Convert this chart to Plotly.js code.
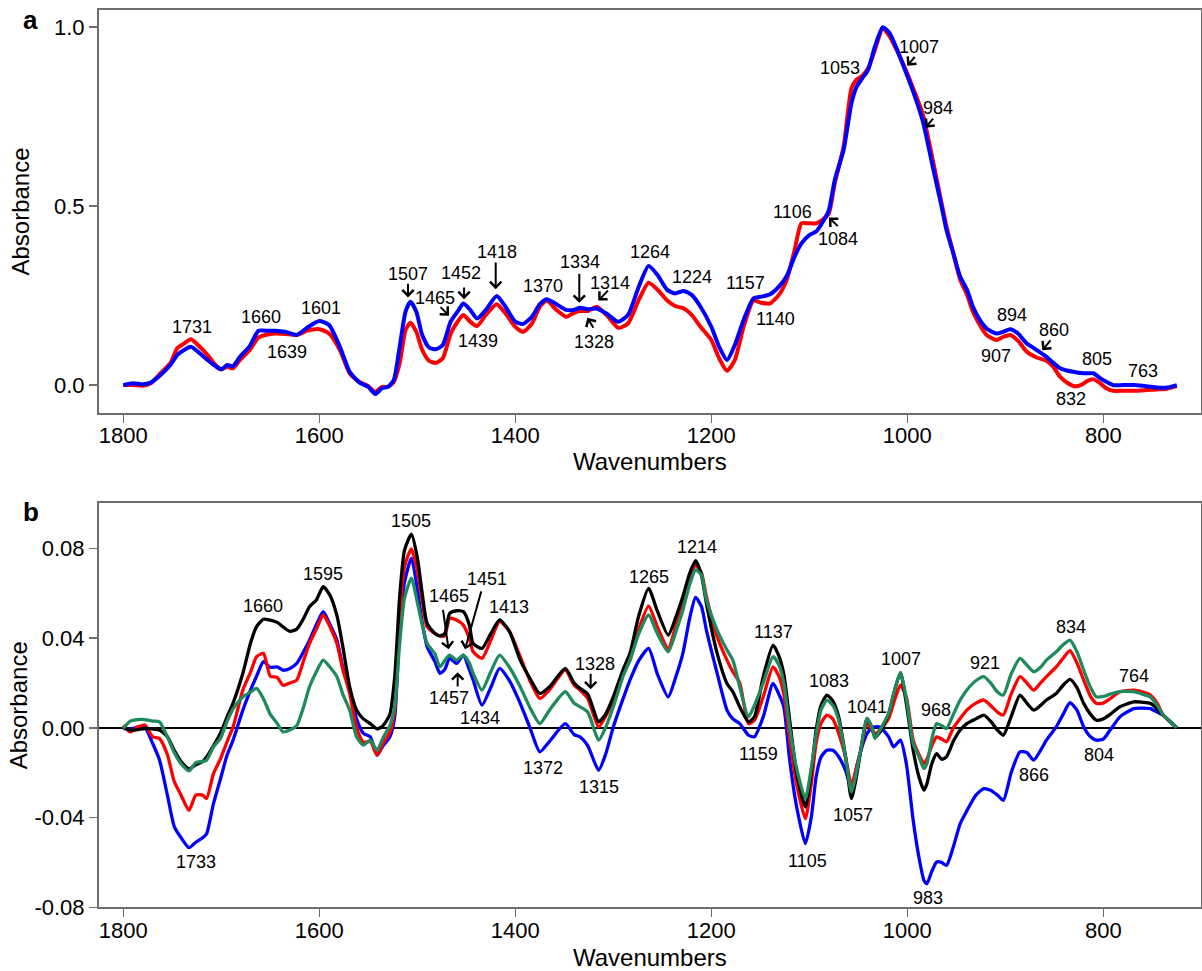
<!DOCTYPE html>
<html>
<head>
<meta charset="utf-8">
<script src="https://cdn.plot.ly/plotly-3.0.1.min.js"></script>
<style>
html,body{margin:0;padding:0;background:#fff;}
#chart{width:1202px;height:971px;}
</style>
</head>
<body>
<div id="chart"></div>
<script>
// ---------- Panel a data (wavenumber, absorbance) ----------
const wnA = [1800,1790,1780,1772,1762,1752,1745,1738,1731,1722,1714,1706,1700,1694,1688,1681,1671,1662,1655,1645,1635,1623,1612,1600,1590,1579,1569,1559,1550,1543,1536,1530,1524,1518,1512,1507,1501,1495,1488,1481,1474,1466,1459,1453,1446,1439,1430,1419,1410,1400,1392,1383,1375,1368,1358,1348,1340,1334,1326,1317,1307,1295,1285,1274,1264,1255,1245,1237,1228,1220,1211,1200,1192,1184,1176,1167,1157,1149,1140,1131,1123,1115,1108,1100,1093,1086,1080,1074,1065,1057,1052,1046,1040,1033,1025,1018,1011,1003,994,984,974,965,960,953,946,939,933,926,919,909,902,895,887,878,868,858,851,844,836,830,823,816,810,804,797,790,780,768,756,745,735,725];
const redA = [0,0,-0.002,0.005,0.033,0.061,0.103,0.116,0.128,0.107,0.084,0.056,0.044,0.051,0.047,0.070,0.098,0.133,0.140,0.144,0.143,0.140,0.152,0.156,0.144,0.098,0.033,0.009,-0.003,-0.019,-0.005,-0.005,0.009,0.061,0.154,0.174,0.149,0.098,0.068,0.062,0.075,0.143,0.177,0.196,0.177,0.165,0.196,0.226,0.200,0.163,0.149,0.172,0.219,0.236,0.210,0.191,0.202,0.207,0.207,0.219,0.196,0.160,0.172,0.238,0.286,0.267,0.236,0.221,0.214,0.196,0.163,0.126,0.075,0.040,0.070,0.163,0.236,0.230,0.228,0.252,0.294,0.377,0.452,0.452,0.452,0.463,0.480,0.564,0.666,0.829,0.853,0.864,0.885,0.937,0.997,0.974,0.937,0.890,0.829,0.755,0.629,0.508,0.443,0.368,0.294,0.252,0.205,0.168,0.140,0.126,0.135,0.140,0.124,0.093,0.077,0.068,0.051,0.023,0.005,-0.003,0.000,0.012,0.016,0.007,-0.009,-0.016,-0.016,-0.016,-0.014,-0.012,-0.010,-0.003];
const blueA = [0,0.005,0.002,0.007,0.028,0.056,0.084,0.098,0.107,0.089,0.070,0.053,0.044,0.056,0.053,0.079,0.109,0.152,0.152,0.152,0.149,0.140,0.161,0.179,0.168,0.107,0.037,0.007,-0.005,-0.025,-0.009,-0.005,0.014,0.107,0.205,0.233,0.205,0.140,0.105,0.100,0.112,0.177,0.205,0.228,0.210,0.186,0.210,0.249,0.219,0.177,0.171,0.191,0.226,0.240,0.226,0.210,0.210,0.216,0.212,0.214,0.200,0.177,0.196,0.275,0.333,0.308,0.266,0.256,0.263,0.252,0.219,0.163,0.107,0.070,0.112,0.182,0.242,0.247,0.254,0.275,0.305,0.359,0.396,0.419,0.429,0.457,0.489,0.573,0.657,0.787,0.832,0.857,0.881,0.946,1.000,0.983,0.941,0.885,0.820,0.736,0.610,0.499,0.433,0.368,0.303,0.266,0.219,0.182,0.158,0.144,0.149,0.156,0.144,0.116,0.098,0.079,0.062,0.047,0.040,0.037,0.034,0.033,0.033,0.021,0.009,0.000,0.000,0.000,-0.003,-0.007,-0.007,0.000];

// ---------- Panel b data (wavenumber, difference absorbance) ----------
const wnB = [1800,1793,1785,1778,1770,1763,1755,1748,1741,1733,1726,1719,1715,1708,1701,1694,1688,1678,1670,1664,1657,1650,1643,1637,1630,1623,1616,1610,1603,1596,1589,1582,1576,1569,1562,1555,1548,1541,1535,1528,1523,1518,1513,1506,1500,1495,1490,1482,1477,1472,1467,1460,1453,1447,1443,1434,1425,1416,1406,1395,1385,1375,1365,1349,1340,1334,1326,1315,1308,1300,1290,1283,1274,1264,1255,1244,1236,1229,1222,1216,1210,1205,1194,1184,1178,1171,1162,1156,1147,1137,1131,1126,1120,1113,1104,1098,1093,1088,1082,1076,1070,1063,1057,1052,1048,1041,1036,1033,1028,1019,1014,1007,1001,994,988,983,980,975,970,965,960,953,946,939,930,922,915,908,902,894,885,878,871,864,858,848,841,834,827,820,813,807,800,793,783,769,760,752,745,739,732,725];
const blackB = [0.0004,-0.0010,-0.0008,-0.0003,-0.0005,-0.0010,-0.0040,-0.0100,-0.0150,-0.0182,-0.0165,-0.0150,-0.0130,-0.0080,-0.0025,0.0050,0.0110,0.0243,0.0380,0.0451,0.0484,0.0480,0.0470,0.0450,0.0430,0.0440,0.0488,0.0540,0.0570,0.0629,0.0590,0.0500,0.0362,0.0183,0.0080,0.0040,0.0019,-0.0005,0.0010,0.0060,0.0230,0.0585,0.0793,0.0863,0.0760,0.0600,0.0466,0.0421,0.0410,0.0420,0.0510,0.0522,0.0518,0.0460,0.0376,0.0354,0.0420,0.0481,0.0430,0.0302,0.0220,0.0153,0.0183,0.0265,0.0200,0.0176,0.0150,0.0027,0.0060,0.0138,0.0260,0.0332,0.0500,0.0622,0.0520,0.0414,0.0496,0.0585,0.0690,0.0745,0.0680,0.0555,0.0332,0.0198,0.0161,0.0094,0.0027,0.0049,0.0228,0.0369,0.0320,0.0240,0.0034,-0.0200,-0.0353,-0.0200,-0.0010,0.0100,0.0146,0.0120,0.0049,-0.0130,-0.0315,-0.0220,-0.0115,0.0042,0.0000,-0.0040,-0.0020,0.0064,0.0150,0.0246,0.0109,-0.0100,-0.0220,-0.0278,-0.0250,-0.0160,-0.0115,-0.0140,-0.0129,-0.0060,-0.0010,0.0020,0.0040,0.0057,0.0030,-0.0010,-0.0033,0.0050,0.0146,0.0110,0.0079,0.0100,0.0124,0.0153,0.0190,0.0216,0.0180,0.0109,0.0060,0.0034,0.0040,0.0060,0.0094,0.0116,0.0114,0.0109,0.0085,0.0057,0.0028,0];
const redB = [0.0012,-0.0018,0.0005,0.0012,-0.0040,-0.0048,-0.0120,-0.0240,-0.0300,-0.0368,-0.0300,-0.0300,-0.0315,-0.0204,-0.0140,-0.0060,0.0004,0.0168,0.0250,0.0317,0.0332,0.0230,0.0225,0.0190,0.0200,0.0213,0.0300,0.0376,0.0440,0.0503,0.0450,0.0376,0.0260,0.0153,0.0000,-0.0065,-0.0060,-0.0122,-0.0070,-0.0020,0.0080,0.0500,0.0720,0.0798,0.0700,0.0570,0.0451,0.0421,0.0410,0.0410,0.0488,0.0481,0.0458,0.0400,0.0339,0.0310,0.0390,0.0473,0.0430,0.0317,0.0210,0.0131,0.0170,0.0257,0.0190,0.0168,0.0130,0.0004,0.0050,0.0124,0.0250,0.0302,0.0440,0.0543,0.0450,0.0354,0.0460,0.0570,0.0680,0.0726,0.0690,0.0585,0.0406,0.0302,0.0250,0.0200,0.0019,0.0034,0.0138,0.0272,0.0230,0.0150,-0.0050,-0.0250,-0.0405,-0.0250,-0.0067,0.0020,0.0057,0.0040,-0.0025,-0.0130,-0.0256,-0.0180,-0.0110,0.0019,-0.0010,-0.0025,-0.0010,0.0042,0.0110,0.0190,0.0138,-0.0055,-0.0120,-0.0159,-0.0140,-0.0080,-0.0040,-0.0050,-0.0062,0.0000,0.0042,0.0080,0.0110,0.0124,0.0100,0.0070,0.0057,0.0150,0.0228,0.0200,0.0168,0.0200,0.0228,0.0272,0.0310,0.0344,0.0290,0.0213,0.0140,0.0109,0.0110,0.0130,0.0161,0.0168,0.0160,0.0146,0.0110,0.0057,0.0028,0];
const blueB = [-0.0003,-0.0005,0.0003,0.0002,-0.0070,-0.0144,-0.0300,-0.0440,-0.0490,-0.0534,-0.0510,-0.0490,-0.0472,-0.0338,-0.0230,-0.0120,-0.0055,0.0079,0.0170,0.0230,0.0295,0.0270,0.0272,0.0257,0.0265,0.0287,0.0340,0.0391,0.0460,0.0518,0.0460,0.0391,0.0270,0.0168,0.0040,-0.0025,-0.0040,-0.0122,-0.0080,-0.0040,0.0050,0.0451,0.0650,0.0756,0.0620,0.0470,0.0362,0.0295,0.0243,0.0260,0.0310,0.0287,0.0324,0.0260,0.0213,0.0101,0.0180,0.0265,0.0210,0.0109,0.0000,-0.0107,-0.0060,0.0019,-0.0030,-0.0040,-0.0080,-0.0189,-0.0120,0.0004,0.0130,0.0213,0.0300,0.0354,0.0240,0.0138,0.0230,0.0332,0.0490,0.0582,0.0540,0.0436,0.0243,0.0079,0.0040,0.0019,-0.0033,-0.0040,0.0049,0.0198,0.0150,0.0094,-0.0144,-0.0350,-0.0516,-0.0400,-0.0218,-0.0130,-0.0100,-0.0100,-0.0129,-0.0190,-0.0271,-0.0180,-0.0110,-0.0025,0.0000,0.0004,0.0004,-0.0040,-0.0085,-0.0055,-0.0159,-0.0412,-0.0580,-0.0680,-0.0695,-0.0640,-0.0598,-0.0600,-0.0613,-0.0530,-0.0427,-0.0368,-0.0300,-0.0271,-0.0278,-0.0300,-0.0323,-0.0200,-0.0107,-0.0110,-0.0144,-0.0100,-0.0055,0.0004,0.0060,0.0112,0.0080,0.0004,-0.0040,-0.0055,-0.0050,-0.0010,0.0049,0.0086,0.0088,0.0086,0.0070,0.0057,0.0028,0];
const greenB = [-0.0003,0.0030,0.0037,0.0037,0.0030,0.0027,-0.0040,-0.0110,-0.0160,-0.0192,-0.0155,-0.0150,-0.0144,-0.0085,-0.0048,0.0030,0.0085,0.0138,0.0160,0.0176,0.0130,0.0060,0.0020,-0.0018,-0.0010,0.0010,0.0094,0.0183,0.0250,0.0302,0.0270,0.0228,0.0150,0.0079,-0.0040,-0.0077,-0.0055,-0.0100,-0.0045,0.0010,0.0100,0.0376,0.0580,0.0667,0.0560,0.0460,0.0376,0.0330,0.0272,0.0300,0.0324,0.0302,0.0324,0.0290,0.0243,0.0168,0.0250,0.0324,0.0270,0.0183,0.0090,0.0019,0.0080,0.0161,0.0110,0.0094,0.0070,-0.0055,0.0000,0.0094,0.0230,0.0302,0.0420,0.0503,0.0420,0.0339,0.0430,0.0525,0.0640,0.0704,0.0680,0.0570,0.0436,0.0347,0.0302,0.0183,0.0049,0.0100,0.0200,0.0317,0.0280,0.0200,0.0000,-0.0180,-0.0315,-0.0180,-0.0030,0.0080,0.0124,0.0100,0.0034,-0.0130,-0.0286,-0.0200,-0.0110,0.0042,0.0000,-0.0048,-0.0010,0.0064,0.0150,0.0246,0.0130,-0.0070,-0.0130,-0.0182,-0.0160,-0.0050,0.0019,0.0010,-0.0003,0.0060,0.0124,0.0170,0.0210,0.0228,0.0200,0.0160,0.0146,0.0240,0.0310,0.0280,0.0250,0.0270,0.0302,0.0339,0.0370,0.0391,0.0340,0.0257,0.0180,0.0138,0.0140,0.0150,0.0161,0.0161,0.0150,0.0138,0.0100,0.0057,0.0028,0];

// ---------- Ticks ----------
const xTickVals = [1800,1600,1400,1200,1000,800];
const xTickText = ['1800','1600','1400','1200','1000','800'];
const yTickValsA = [0,0.5,1.0];
const yTickTextA = ['0.0','0.5','1.0'];
const yTickValsB = [-0.08,-0.04,0,0.04,0.08];
const yTickTextB = ['-0.08','-0.04','0.00','0.04','0.08'];

// ---------- Peak labels ----------
const labelsA = [
 ['1731',1730,0.163],['1660',1660,0.189],['1639',1633,0.093],['1601',1598,0.214],
 ['1507',1509,0.309],['1465',1482,0.242],['1452',1455,0.312],['1418',1419,0.373],
 ['1439',1438,0.124],['1370',1372,0.277],['1334',1334,0.345],['1314',1303,0.286],
 ['1328',1320,0.121],['1264',1263,0.373],['1224',1220,0.301],['1157',1165,0.284],
 ['1140',1134,0.186],['1106',1117,0.483],['1084',1071,0.407],['1053',1069,0.885],
 ['1007',988,0.946],['984',969,0.774],['894',893,0.196],['907',909,0.081],
 ['860',850,0.154],['805',806,0.072],['832',833,-0.040],['763',759,0.040]
];
const arrowsA = [
 [1509.5,0.287,1509.5,0.245],[1452.3,0.277,1452.3,0.240],[1420,0.347,1420,0.268],
 [1334.7,0.315,1334.7,0.230],[1304,0.268,1315.3,0.236],[1319.4,0.156,1326.5,0.188],
 [1477.8,0.222,1467.7,0.194],[1069.4,0.440,1079.9,0.468],[991.1,0.921,1000,0.892],
 [972.5,0.749,981.2,0.719],[852.7,0.129,862.2,0.097]
];
const labelsB = [
 ['1660',1657,0.0543],['1595',1596,0.0686],['1733',1726,-0.0598],['1505',1506,0.0920],
 ['1465',1468,0.0589],['1451',1429,0.0662],['1413',1406,0.0540],['1457',1468,0.0131],
 ['1434',1436.5,0.0042],['1372',1372,-0.0179],['1315',1315,-0.0263],['1328',1319,0.0284],
 ['1265',1264,0.0671],['1214',1215,0.0805],['1137',1137,0.0426],['1159',1151.5,-0.0117],
 ['1083',1080,0.0208],['1105',1101.6,-0.0594],['1057',1055.4,-0.0390],['1041',1041.4,0.0094],
 ['1007',1006,0.0305],['968',971,0.0079],['921',920.7,0.0287],['983',979,-0.0757],
 ['866',870.5,-0.0211],['834',833,0.0451],['764',768.5,0.0231],['804',804.6,-0.0122]
];
const arrowsB = [
 [1474,0.0533,1468.1,0.0350],[1434.3,0.0615,1451.3,0.0350],
 [1458.8,0.0178,1458.8,0.0248],[1323.1,0.0248,1323.1,0.0172]
];

const FONT = 'Liberation Sans, Arial, Helvetica, sans-serif';
const traces = [
 {x:wnA,y:redA,xaxis:'x',yaxis:'y',mode:'lines',line:{color:'#ff0000',width:4,shape:'spline',smoothing:0.6},hoverinfo:'skip'},
 {x:wnA,y:blueA,xaxis:'x',yaxis:'y',mode:'lines',line:{color:'#0000ff',width:4,shape:'spline',smoothing:0.6},hoverinfo:'skip'},
 {x:wnB,y:blueB,xaxis:'x2',yaxis:'y2',mode:'lines',line:{color:'#0000ff',width:3.3,shape:'spline',smoothing:0.6},hoverinfo:'skip'},
 {x:wnB,y:redB,xaxis:'x2',yaxis:'y2',mode:'lines',line:{color:'#ff0000',width:3.3,shape:'spline',smoothing:0.6},hoverinfo:'skip'},
 {x:wnB,y:blackB,xaxis:'x2',yaxis:'y2',mode:'lines',line:{color:'#000000',width:3.3,shape:'spline',smoothing:0.6},hoverinfo:'skip'},
 {x:wnB,y:greenB,xaxis:'x2',yaxis:'y2',mode:'lines',line:{color:'#1f8a5c',width:3.3,shape:'spline',smoothing:0.6},hoverinfo:'skip'}
];

const W = 1202, H = 971;
const xDom = [99/W, 1200.7/W];
const axisCommon = {
 showline:true, linecolor:'#6e6e6e', linewidth:2, mirror:true,
 ticks:'outside', ticklen:8, tickwidth:1.5, tickcolor:'#6e6e6e',
 showgrid:false, zeroline:false, tickfont:{family:FONT,size:22,color:'#000'}
};
function xAxis(anchor, standoff){
 return Object.assign({}, axisCommon, {
  domain:xDom, range:[1824.8,700.6], autorange:false, anchor:anchor,
  tickmode:'array', tickvals:xTickVals, ticktext:xTickText, ticklabelstandoff:-6,
  title:{text:'Wavenumbers', font:{family:FONT,size:24,color:'#000'}, standoff:standoff}
 });
}
const layout = {
 width:W, height:H, margin:{l:0,r:0,t:0,b:0}, paper_bgcolor:'#fff', plot_bgcolor:'#fff',
 showlegend:false, hovermode:false,
 xaxis: xAxis('y', 4),
 yaxis: Object.assign({}, axisCommon, {
  domain:[(H-413)/H,(H-10)/H], range:[-0.078,1.048], autorange:false, anchor:'x',
  tickmode:'array', tickvals:yTickValsA, ticktext:yTickTextA,
  title:{text:'Absorbance', font:{family:FONT,size:24,color:'#000'}, standoff:18}
 }),
 xaxis2: xAxis('y2', 8),
 yaxis2: Object.assign({}, axisCommon, {
  domain:[(H-907.3)/H,(H-503.3)/H], range:[-0.08,0.1001], autorange:false, anchor:'x2',
  tickmode:'array', tickvals:yTickValsB, ticktext:yTickTextB,
  zeroline:true, zerolinecolor:'#000', zerolinewidth:1.5,
  title:{text:'Absorbance', font:{family:FONT,size:24,color:'#000'}, standoff:0}
 }),
 annotations:[], shapes:[]
};

function addLabels(list, xr, yr){
 list.forEach(l=>layout.annotations.push({text:l[0],x:l[1],y:l[2],xref:xr,yref:yr,showarrow:false,
  xanchor:'center',yanchor:'middle',font:{family:FONT,size:18,color:'#000'}}));
}
function addArrows(list, xr, yr){
 list.forEach(a=>layout.annotations.push({text:'',x:a[2],y:a[3],ax:a[0],ay:a[1],xref:xr,yref:yr,axref:xr,ayref:yr,
  showarrow:true,arrowhead:4,arrowsize:1.1,arrowwidth:2,arrowcolor:'#000',standoff:0,startstandoff:0}));
}
addLabels(labelsA,'x','y'); addArrows(arrowsA,'x','y');
addLabels(labelsB,'x2','y2'); addArrows(arrowsB,'x2','y2');

layout.annotations.push({text:'<b>a</b>',x:30/W,y:(H-20)/H,xref:'paper',yref:'paper',showarrow:false,xanchor:'center',yanchor:'middle',font:{family:FONT,size:26,color:'#000'}});
layout.annotations.push({text:'<b>b</b>',x:31/W,y:(H-512)/H,xref:'paper',yref:'paper',showarrow:false,xanchor:'center',yanchor:'middle',font:{family:FONT,size:26,color:'#000'}});

Plotly.newPlot('chart', traces, layout, {displayModeBar:false, staticPlot:true});
</script>
</body>
</html>
